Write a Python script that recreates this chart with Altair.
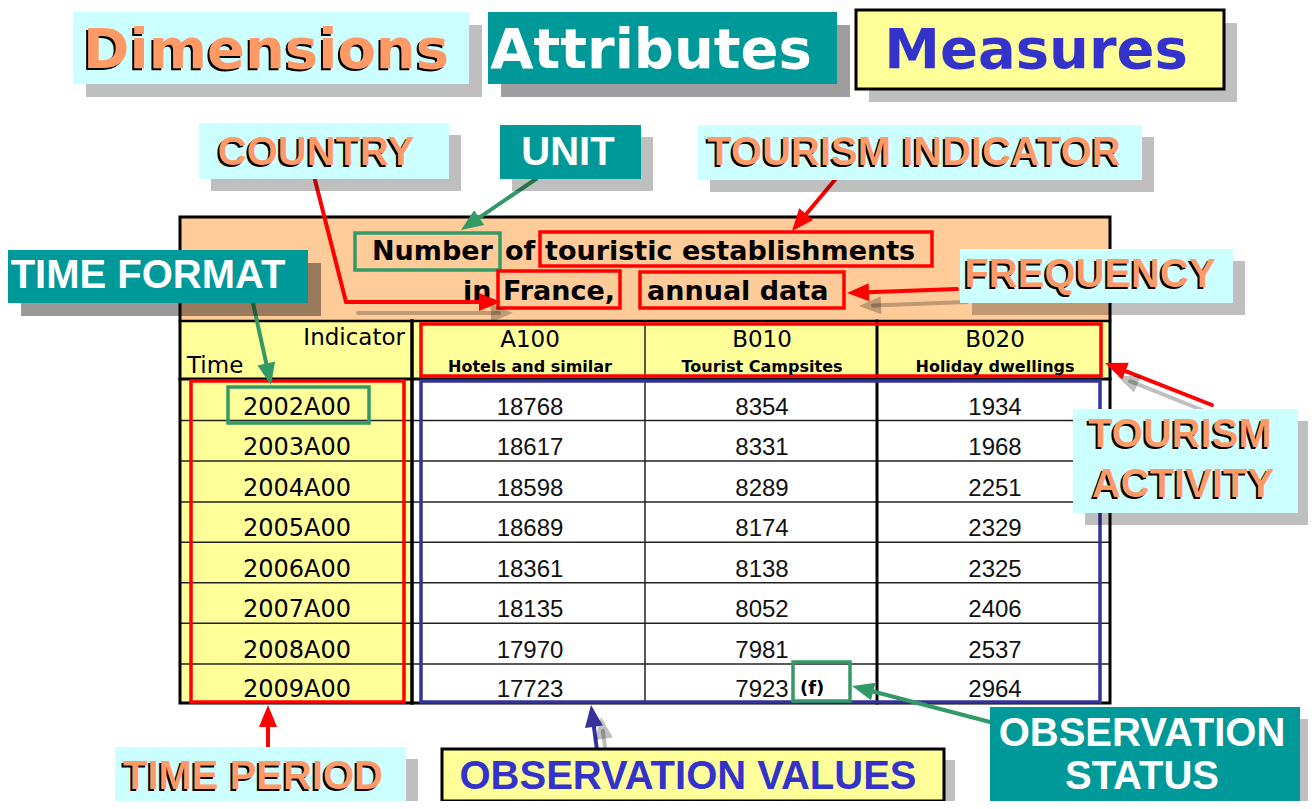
import math
import altair as alt
import pandas as pd

# ---------------- data ----------------
time_periods = ["2002A00", "2003A00", "2004A00", "2005A00",
                "2006A00", "2007A00", "2008A00", "2009A00"]
indicator_codes = ["A100", "B010", "B020"]
indicator_names = ["Hotels and similar", "Tourist Campsites", "Holiday dwellings"]
hotels = [18768, 18617, 18598, 18689, 18361, 18135, 17970, 17723]
campsites = [8354, 8331, 8289, 8174, 8138, 8052, 7981, 7923]
holiday_dwellings = [1934, 1968, 2251, 2329, 2325, 2406, 2537, 2964]
campsite_status = ["", "", "", "", "", "", "", "(f)"]
title_line1 = ["Number", "of", "touristic establishments"]
title_line2 = ["in", "France,", "annual data"]
corner_labels = ["Indicator", "Time"]
concepts = ["Dimensions", "Attributes", "Measures"]
callouts = ["COUNTRY", "UNIT", "TOURISM INDICATOR", "TIME FORMAT", "FREQUENCY",
            "TOURISM|ACTIVITY", "TIME PERIOD", "OBSERVATION VALUES", "OBSERVATION|STATUS"]

# ---------------- layout (page pixels) ----------------
W, H = 1300, 793
X0, Y0 = 8, 8
XS = alt.Scale(domain=[X0, X0 + W], nice=False, zero=False)
YS = alt.Scale(domain=[Y0, Y0 + H], nice=False, zero=False, reverse=True)

CYAN, TEAL, YELLOW, PEACH = "#CCFFFF", "#009999", "#FFFF99", "#FFCC99"
ORANGE, BLUE_T, RED, GREEN, NAVY = "#FF9966", "#3333CC", "#FF0000", "#339966", "#333399"

COLS = [180, 412, 645, 877, 1110]
COL_CENTERS = [297, 530, 762, 995]
TABLE_TOP, TITLE_BOTTOM, HEADER_BOTTOM = 217, 321, 379
ROW_EDGES = [379, 420.5, 461, 502, 542.3, 582.7, 623.3, 664, 703]

title1_x = [372, 505, 545]
title2_x = [463, 503, 647]
title_y = [260, 300]

concept_layout = [
    dict(box=(73, 12, 469, 84), fill=CYAN, border=None, sh=0.25, off=13, tx=[(266, 68)], color=ORANGE, outline=True),
    dict(box=(488, 12, 837, 84), fill=TEAL, border=None, sh=0.38, off=13, tx=[(651, 68)], color="white", outline=False),
    dict(box=(856, 10, 1224, 89), fill=YELLOW, border="black", sh=0.25, off=13, tx=[(1036, 68)], color=BLUE_T, outline=False),
]
callout_layout = [
    dict(box=(199, 123, 449, 179), fill=CYAN, border=None, sh=0.25, off=12, tx=[(316, 165)], color=ORANGE, outline=True),
    dict(box=(500, 125, 641, 179), fill=TEAL, border=None, sh=0.25, off=12, tx=[(568, 165)], color="white", outline=False),
    dict(box=(698, 125, 1142, 180), fill=CYAN, border=None, sh=0.25, off=12, tx=[(914, 165)], color=ORANGE, outline=True),
    dict(box=(8, 250, 308, 303), fill=TEAL, border=None, sh=0.4, off=13, tx=[(148, 288)], color="white", outline=False),
    dict(box=(960, 249, 1233, 303), fill=CYAN, border=None, sh=0.25, off=12, tx=[(1090, 287)], color=ORANGE, outline=True),
    dict(box=(1073, 409, 1298, 513), fill=CYAN, border=None, sh=0.25, off=12, tx=[(1180, 447), (1183, 497)], color=ORANGE, outline=True),
    dict(box=(115, 747, 406, 803), fill=CYAN, border=None, sh=0.25, off=12, tx=[(253, 789)], color=ORANGE, outline=True),
    dict(box=(442, 749, 944, 812), fill=YELLOW, border="black", sh=0.25, off=11, tx=[(688, 789)], color=BLUE_T, outline=False),
    dict(box=(990, 707, 1300, 812), fill=TEAL, border=None, sh=0.25, off=12, tx=[(1142, 746), (1142, 789)], color="white", outline=False),
]

# highlight frames (x0, y0, x1, y1, colour)
frames = [
    (355, 233, 500, 270, GREEN),
    (540, 232, 932, 266, RED),
    (498, 271, 620, 308, RED),
    (640, 272, 844, 308, RED),
    (421, 324, 1101, 376, RED),
    (191, 381, 404, 702, RED),
    (421, 381, 1100, 702, NAVY),
    (228, 387, 369, 423, GREEN),
    (793, 662, 850, 701, GREEN),
]

arrows = [
    ([(315, 180), (346, 302), (501, 302)], RED),
    ([(536, 179), (461, 230)], GREEN),
    ([(839, 175), (792, 231)], RED),
    ([(253, 303), (271, 385)], GREEN),
    ([(957, 289), (847, 293)], RED),
    ([(1212, 405), (1105, 363)], RED),
    ([(268, 747), (268, 705)], RED),
    ([(597, 750), (591, 705)], NAVY),
    ([(990, 722), (852, 686)], GREEN),
]
arrow_shadows = [
    [(358, 313), (513, 313)],
    [(967, 302), (859, 306)],
    [(1222, 418), (1117, 376)],
    [(607, 762), (601, 717)],
]

HEAD = "M0,0L0.9,2.2L-0.9,2.2Z"
HEAD_SIZE = 400


def clip_box(b):
    x0, y0, x1, y1 = b
    return (max(x0, X0), max(y0, Y0), min(x1, X0 + W), min(y1, Y0 + H))


# ---------------- build tables ----------------
fill_rows = []
outline_rows = []
rule_rows = []
head_rows = []
text_rows = []

fill_rows.append((COLS[0], COLS[-1], TABLE_TOP, TITLE_BOTTOM, PEACH, 1))
fill_rows.append((COLS[0], COLS[-1], TITLE_BOTTOM, HEADER_BOTTOM, YELLOW, 1))
fill_rows.append((COLS[0], COLS[1], HEADER_BOTTOM, ROW_EDGES[-1], YELLOW, 1))

for y in ROW_EDGES[1:-1]:
    rule_rows.append((COLS[0], COLS[-1], y, y, "#222222", 1.5, 1))
rule_rows.append((COLS[0], COLS[-1], TITLE_BOTTOM, TITLE_BOTTOM, "black", 2.5, 1))
rule_rows.append((COLS[0], COLS[-1], HEADER_BOTTOM, HEADER_BOTTOM, "black", 3, 1))
rule_rows.append((COLS[1], COLS[1], TITLE_BOTTOM, ROW_EDGES[-1], "black", 3.5, 1))
rule_rows.append((COLS[2], COLS[2], TITLE_BOTTOM, ROW_EDGES[-1], "#222222", 1.5, 1))
rule_rows.append((COLS[3], COLS[3], TITLE_BOTTOM, ROW_EDGES[-1], "black", 3, 1))
outline_rows.append((COLS[0], COLS[-1], TABLE_TOP, ROW_EDGES[-1], "black", 3))

for t, x in zip(title_line1, title1_x):
    text_rows.append((t, x, title_y[0], 27, "black", "DejaVu Sans", "bold", "left", 0, 0))
for t, x in zip(title_line2, title2_x):
    text_rows.append((t, x, title_y[1], 27, "black", "DejaVu Sans", "bold", "left", 0, 0))
text_rows.append((corner_labels[0], 405, 345, 23, "black", "DejaVu Sans", "normal", "right", 0, 0))
text_rows.append((corner_labels[1], 187, 373, 23, "black", "DejaVu Sans", "normal", "left", 0, 0))
for code, name, cx in zip(indicator_codes, indicator_names, COL_CENTERS[1:]):
    text_rows.append((code, cx, 347, 23, "black", "DejaVu Sans", "normal", "center", 0, 0))
    text_rows.append((name, cx, 372, 16, "black", "DejaVu Sans", "bold", "center", 0, 0))
for i, p in enumerate(time_periods):
    base = ROW_EDGES[i + 1] - 6
    text_rows.append((p, COL_CENTERS[0], base, 24, "black", "DejaVu Sans", "normal", "center", 0, 0))
    for series, cx in zip([hotels, campsites, holiday_dwellings], COL_CENTERS[1:]):
        text_rows.append((str(series[i]), cx, base, 24, "#111111", "Liberation Sans", "normal", "center", 0, 0))
    if campsite_status[i]:
        text_rows.append((campsite_status[i], 800, base - 3, 18, "black", "DejaVu Sans", "bold", "left", 0, 0))

for x0, y0, x1, y1, c in frames:
    outline_rows.append((x0, x1, y0, y1, c, 3.5))

rule_rows_arrow = []


def add_arrow(pts, color, op, width=4):
    (xa, ya), (xb, yb) = pts[-2], pts[-1]
    dx, dy = xb - xa, yb - ya
    L = math.hypot(dx, dy)
    ux, uy = dx / L, dy / L
    ex, ey = xb - ux * 14, yb - uy * 14
    segs = list(pts[:-1]) + [(ex, ey)]
    for (p0x, p0y), (p1x, p1y) in zip(segs[:-1], segs[1:]):
        rule_rows_arrow.append((p0x, p1x, p0y, p1y, color, width, op))
    ang = math.degrees(math.atan2(dx, -dy)) % 360
    head_rows.append((xb, yb, color, ang, op))


for pts in arrow_shadows:
    add_arrow(pts, "black", 0.25)
for pts, c in arrows:
    add_arrow(pts, c, 1)

label_fill_rows = []
label_outline_rows = []
label_text_rows = []
for names, layouts, font, fs in [
    (concepts, concept_layout, "DejaVu Sans", 56),
    (callouts, callout_layout, "Liberation Sans", 40),
]:
    for name, lay in zip(names, layouts):
        x0, y0, x1, y1 = lay["box"]
        o = lay["off"]
        sb = clip_box((x0 + o, y0 + o, x1 + o, y1 + o))
        label_fill_rows.append((sb[0], sb[2], sb[1], sb[3], "black", lay["sh"]))
        b = clip_box((x0, y0, x1, y1))
        label_fill_rows.append((b[0], b[2], b[1], b[3], lay["fill"], 1))
        if lay["border"]:
            label_outline_rows.append((b[0], b[2], b[1], b[3], lay["border"], 3))
        for line, (tx, ty) in zip(name.split("|"), lay["tx"]):
            if lay["outline"]:
                label_text_rows.append((line, tx, ty, fs, "black", font, "bold", "center", -2, 2))
            label_text_rows.append((line, tx, ty, fs, lay["color"], font, "bold", "center", 0, 0))

FILL_COLS = ["x0", "x1", "y0", "y1", "fill", "op"]
OUT_COLS = ["x0", "x1", "y0", "y1", "stroke", "sw"]
RULE_COLS = ["x0", "x1", "y0", "y1", "c", "sw", "op"]
TEXT_COLS = ["t", "x", "y", "fs", "c", "font", "weight", "align", "dx", "dy"]


def xy_box(ch):
    return ch.encode(
        x=alt.X("x0:Q", scale=XS, axis=None), x2="x1:Q",
        y=alt.Y("y0:Q", scale=YS, axis=None), y2="y1:Q",
    )


def fill_layer(rows):
    df = pd.DataFrame(rows, columns=FILL_COLS)
    return xy_box(alt.Chart(df).mark_rect(strokeWidth=0)).encode(
        color=alt.Color("fill:N", scale=None),
        opacity=alt.Opacity("op:Q", scale=None),
    )


def outline_layer(rows):
    df = pd.DataFrame(rows, columns=OUT_COLS)
    return xy_box(alt.Chart(df).mark_rect(fillOpacity=0)).encode(
        stroke=alt.Stroke("stroke:N", scale=None),
        strokeWidth=alt.StrokeWidth("sw:Q", scale=None),
    )


def rule_layer(rows, cap="butt"):
    df = pd.DataFrame(rows, columns=RULE_COLS)
    return xy_box(alt.Chart(df).mark_rule(strokeCap=cap)).encode(
        color=alt.Color("c:N", scale=None),
        strokeWidth=alt.StrokeWidth("sw:Q", scale=None),
        opacity=alt.Opacity("op:Q", scale=None),
    )


def head_layer(rows):
    df = pd.DataFrame(rows, columns=["x", "y", "c", "ang", "op"])
    return alt.Chart(df).mark_point(shape=HEAD, filled=True, strokeWidth=0, size=HEAD_SIZE).encode(
        x=alt.X("x:Q", scale=XS, axis=None),
        y=alt.Y("y:Q", scale=YS, axis=None),
        color=alt.Color("c:N", scale=None),
        angle=alt.Angle("ang:Q", scale=None),
        opacity=alt.Opacity("op:Q", scale=None),
    )


def text_layers(rows):
    df = pd.DataFrame(rows, columns=TEXT_COLS)
    out = []
    for (font, weight, align, dx, dy), g in df.groupby(["font", "weight", "align", "dx", "dy"], sort=False):
        out.append(
            alt.Chart(g.reset_index(drop=True)).mark_text(
                font=font, fontWeight=weight, align=align, baseline="alphabetic",
                dx=float(dx), dy=float(dy),
            ).encode(
                x=alt.X("x:Q", scale=XS, axis=None),
                y=alt.Y("y:Q", scale=YS, axis=None),
                text="t:N",
                color=alt.Color("c:N", scale=None),
                size=alt.Size("fs:Q", scale=None),
            )
        )
    return out


layers = [
    fill_layer(fill_rows),
    rule_layer(rule_rows, cap="square"),
    outline_layer(outline_rows),
    *text_layers(text_rows),
    rule_layer(rule_rows_arrow, cap="round"),
    head_layer(head_rows),
    fill_layer(label_fill_rows),
    outline_layer(label_outline_rows),
    *text_layers(label_text_rows),
]

chart = alt.layer(*layers).properties(
    width=W, height=H, padding=0,
    autosize=alt.AutoSizeParams(type="none"),
    background="white",
).configure_view(stroke=None)

chart.save("out.html", embed_options={"renderer": "svg", "actions": False})
